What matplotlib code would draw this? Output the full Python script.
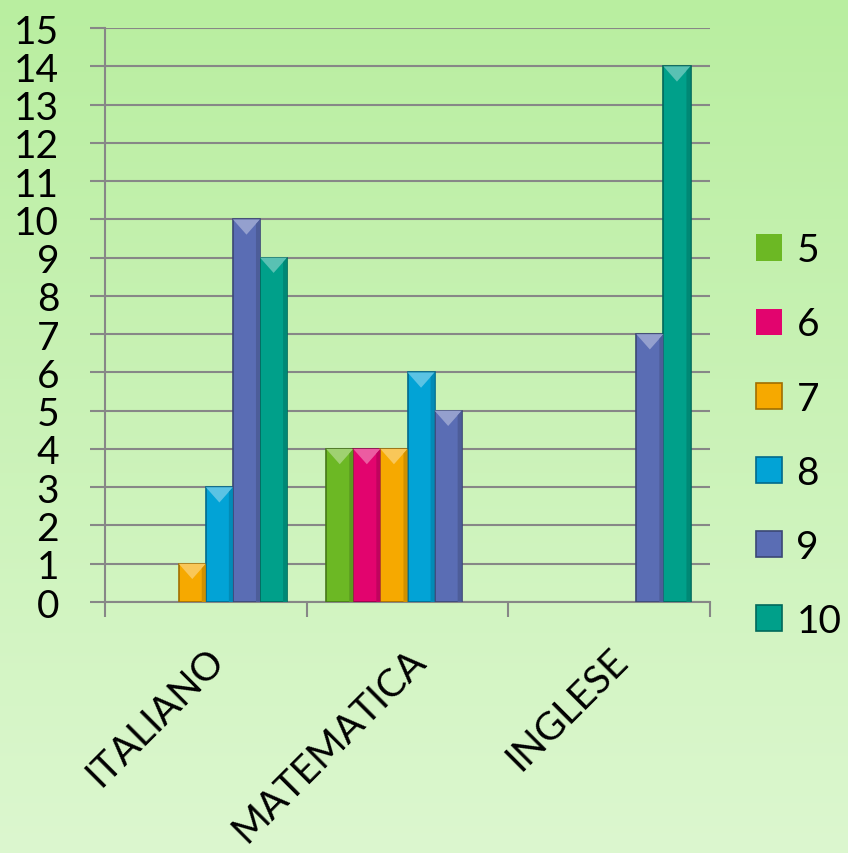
import numpy as np
import matplotlib.pyplot as plt
from matplotlib.patches import Polygon
from matplotlib.colors import to_rgb

materie = ['ITALIANO', 'MATEMATICA', 'INGLESE']
voti = ['5', '6', '7', '8', '9', '10']
voto_5 = [0, 4, 0]
voto_6 = [0, 4, 0]
voto_7 = [1, 4, 0]
voto_8 = [3, 6, 0]
voto_9 = [10, 5, 7]
voto_10 = [9, 0, 14]
serie = [voto_5, voto_6, voto_7, voto_8, voto_9, voto_10]
colori = ['#6cb824', '#e2046e', '#f6a900', '#02a3d6', '#5a6db4', '#00a08a']

plt.rcParams['font.family'] = ['Lato', 'DejaVu Sans']

fig = plt.figure(figsize=(8.48, 8.54), dpi=100)

# sfondo sfumato verde
bg = fig.add_axes([0, 0, 1, 1], zorder=-10)
top = np.array(to_rgb('#b9eea0'))
bot = np.array(to_rgb('#dcf7cf'))
t = np.linspace(0, 1, 256)[:, None]
grad = top * (1 - t) + bot * t
bg.imshow(grad[:, None, :], aspect='auto', extent=[0, 1, 0, 1])
bg.axis('off')

ax = fig.add_axes([0.1238, 0.2939, 0.7135, 0.6721])
ax.set_facecolor('none')

x = np.arange(len(materie))
w = 1 / 7.44


def schiarisci(c, f):
    c = np.array(to_rgb(c))
    return tuple(c + (1 - c) * f)


def scurisci(c, f):
    c = np.array(to_rgb(c))
    return tuple(c * (1 - f))


for i, (vals, col) in enumerate(zip(serie, colori)):
    bars = ax.bar(x + (i - 2.5) * w, vals, w, color=col,
                  edgecolor=scurisci(col, 0.35), linewidth=1.2,
                  label=voti[i], zorder=3)
    for b in bars:
        h = b.get_height()
        if h <= 0:
            b.set_linewidth(0)
            continue
        x0, bw = b.get_x(), b.get_width()
        d = 0.4
        # smusso superiore
        ax.add_patch(Polygon([(x0, h), (x0 + bw, h), (x0 + bw * 0.5, h - d)],
                             closed=True, facecolor=schiarisci(col, 0.35),
                             edgecolor='none', zorder=4))
        # lato destro piu scuro
        ax.add_patch(Polygon([(x0 + bw * 0.85, 0), (x0 + bw, 0), (x0 + bw, h), (x0 + bw * 0.85, h - d * 0.3)],
                             closed=True, facecolor=scurisci(col, 0.15),
                             edgecolor='none', zorder=4))

ax.set_xlim(-0.5, 2.5)
ax.set_ylim(0, 15)
ax.set_yticks(range(0, 16))
ax.yaxis.grid(True, color='#878787', linewidth=1.5, zorder=0)
ax.set_axisbelow(True)

ax.set_xticks(x)
ax.set_xticklabels(materie, rotation=45, ha='right', va='top',
                   rotation_mode='anchor', fontsize=28)
ax.set_xticks([-0.5, 0.5, 1.5, 2.5], minor=True)
ax.tick_params(axis='x', which='major', length=0, pad=28)
ax.tick_params(axis='x', which='minor', length=11, width=1.5, color='#878787')
ax.tick_params(axis='y', length=11, width=1.5, color='#878787', labelsize=28, pad=22)

for s in ['top', 'right']:
    ax.spines[s].set_visible(False)
for s in ['left', 'bottom']:
    ax.spines[s].set_color('#878787')
    ax.spines[s].set_linewidth(1.5)

ax.legend(loc='center left', bbox_to_anchor=(1.051, 0.29), frameon=False,
          fontsize=28, handlelength=0.67, handleheight=0.67,
          labelspacing=0.98, handletextpad=0.36, borderaxespad=0)

fig.savefig('out.png', dpi=100)
